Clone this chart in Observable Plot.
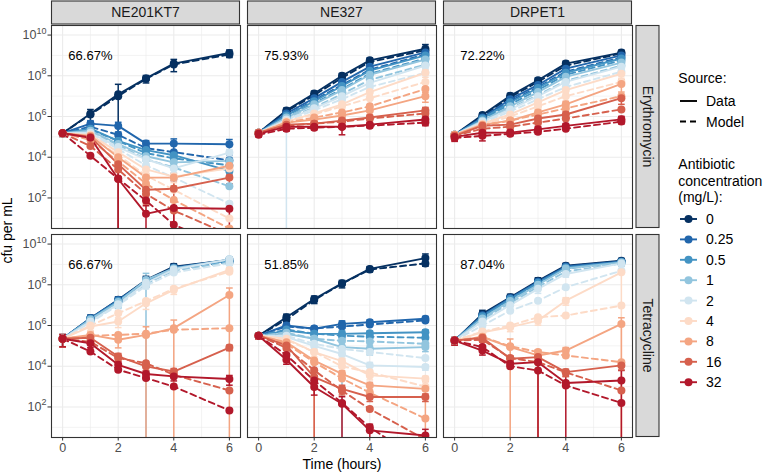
<!DOCTYPE html>
<html><head><meta charset="utf-8">
<script src="https://cdn.jsdelivr.net/npm/d3@7"></script>
<script src="https://cdn.jsdelivr.net/npm/@observablehq/plot@0.6"></script>
<style>
body{margin:0;background:#fff;}
#wrap{position:relative;width:763px;height:474px;font-family:"Liberation Sans",Arial,Helvetica,sans-serif;}
#wrap svg{position:absolute;left:0;top:0;}
</style></head><body><div id="wrap"></div>
<script>
// ---------- categories / ticks ----------
const times = [0, 1, 2, 3, 4, 6];
const strains = ["NE201KT7", "NE327", "DRPET1"];
const drugs = ["Erythromycin", "Tetracycline"];
const concs = ["0", "0.25", "0.5", "1", "2", "4", "8", "16", "32"];
const concColors = ["#053061", "#2166AC", "#4393C3", "#92C5DE", "#D1E5F0", "#FDDBC7", "#F4A582", "#D6604D", "#B2182B"];
const sources = ["Data", "Model"];
const xTicks = [0, 2, 4, 6];
const xMinor = [1, 3, 5];
const yMajor = [1e2, 1e4, 1e6, 1e8, 1e10];
const yMinor = [1e1, 1e3, 1e5, 1e7, 1e9];
const fitPercentErythromycin = ["66.67%", "75.93%", "72.22%"];
const fitPercentTetracycline = ["66.67%", "51.85%", "87.04%"];
const labelTime = 1, labelCfu = 1e9;

// ---------- values: log10(cfu per mL), rows = concentrations, cols = times ----------
// Erythromycin / NE201KT7
const eryNE201KT7Data = [
 [5.18,6.14,7.09,7.87,8.60,9.12],[5.18,5.65,5.54,4.67,4.67,4.64],[5.18,5.40,4.80,4.35,4.10,3.33],
 [5.18,5.30,4.65,4.05,3.75,3.82],[5.18,5.20,4.50,3.90,3.45,4.23],[5.18,5.10,4.25,3.40,3.05,3.45],
 [5.18,5.05,4.00,3.00,3.00,3.58],[5.18,5.00,3.66,2.40,2.45,3.00],[5.18,4.96,2.93,1.22,1.51,1.47]];
const eryNE201KT7Model = [
 [5.18,6.10,7.00,7.85,8.55,9.05],[5.18,5.50,5.10,4.45,4.25,3.85],[5.18,5.35,4.80,4.20,3.95,3.60],
 [5.18,5.25,4.60,3.90,3.50,2.57],[5.18,5.15,4.40,3.60,3.00,1.72],[5.18,5.00,4.10,3.10,2.40,0.99],
 [5.18,4.85,3.80,2.70,1.90,0.50],[5.18,4.55,3.40,2.20,1.38,0.20],[5.18,4.07,2.95,1.87,0.69,-0.50]];
const eryNE201KT7Cv = [
 [0.3,0.6,2.1,0.4,0.6,0.4],[0.3,0.4,0.5,0.4,0.7,0.7],[0.3,0.4,0.5,0.4,0.4,0.4],
 [0.3,0.3,0.5,0.4,0.4,0.4],[0.3,0.3,0.4,0.4,0.4,0.4],[0.3,0.3,0.4,0.5,0.5,0.4],
 [0.3,0.3,0.5,0.6,0.6,0.5],[0.3,0.3,1.2,0.8,1.5,0.5],[0.3,0.4,1.5,1.5,1.0,1.0]];
// Erythromycin / NE327
const eryNE327Data = [
 [5.20,6.30,7.13,8.00,8.76,9.33],[5.20,6.15,6.90,7.70,8.45,9.15],[5.20,6.05,6.75,7.50,8.25,9.00],
 [5.20,5.95,6.60,7.30,8.05,8.80],[5.20,5.85,6.40,7.00,7.65,8.50],[5.20,5.75,6.15,6.60,7.20,8.15],
 [5.20,5.70,5.85,6.05,6.30,7.00],[5.20,5.60,5.65,5.80,5.95,6.30],[5.15,5.50,5.50,5.50,5.60,5.85]];
const eryNE327Model = [
 [5.20,6.25,7.05,7.90,8.68,9.25],[5.20,6.05,6.80,7.55,8.30,9.05],[5.20,5.95,6.65,7.35,8.10,8.85],
 [5.20,5.90,6.45,7.10,7.80,8.55],[5.20,5.80,6.30,6.85,7.45,8.15],[5.20,5.75,6.10,6.50,6.90,7.70],
 [5.20,5.70,5.95,6.20,6.50,7.35],[5.20,5.55,5.65,5.75,5.90,6.15],[5.10,5.40,5.45,5.50,5.55,5.70]];
const eryNE327Cv = [
 [0.3,0.3,0.3,0.3,0.3,0.6],[0.3,0.3,0.3,0.3,0.3,0.3],[0.3,0.3,0.3,0.3,0.3,0.3],
 [0.3,0.3,0.3,0.4,0.3,0.3],[0.3,1.5,0.3,0.4,0.3,0.3],[0.3,0.3,0.3,0.4,0.3,0.4],
 [0.3,0.3,0.3,0.4,0.4,0.5],[0.3,0.3,0.3,0.4,0.3,0.4],[0.3,0.4,0.3,0.6,0.3,0.5]];
// Erythromycin / DRPET1
const eryDRPET1Data = [
 [5.10,6.07,7.02,7.78,8.60,9.14],[5.10,5.95,6.85,7.55,8.35,9.00],[5.10,5.90,6.70,7.40,8.15,8.85],
 [5.10,5.80,6.50,7.20,7.95,8.65],[5.10,5.75,6.35,7.00,7.70,8.45],[5.10,5.65,6.10,6.70,7.30,8.10],
 [5.10,5.60,5.80,6.20,6.60,7.60],[5.05,5.55,5.60,5.90,6.10,6.90],[5.00,5.20,5.21,5.37,5.54,5.86]];
const eryDRPET1Model = [
 [5.10,6.00,6.95,7.70,8.50,9.10],[5.10,5.90,6.75,7.45,8.20,8.90],[5.10,5.85,6.60,7.30,8.05,8.75],
 [5.10,5.75,6.40,7.05,7.75,8.50],[5.10,5.70,6.25,6.85,7.45,8.20],[5.10,5.60,6.00,6.50,7.00,7.70],
 [5.10,5.55,5.80,6.10,6.40,7.00],[5.05,5.40,5.50,5.70,5.90,6.35],[4.95,5.05,5.15,5.25,5.40,5.75]];
const eryDRPET1Cv = [
 [0.3,0.3,0.3,0.3,0.3,0.3],[0.3,0.3,0.3,0.3,0.3,0.3],[0.3,0.3,0.3,0.3,0.3,0.3],
 [0.3,0.3,0.3,0.3,0.3,0.3],[0.3,0.3,0.3,0.3,0.3,0.3],[0.3,0.3,0.3,0.3,0.3,0.4],
 [0.3,0.3,0.3,0.4,0.4,0.6],[0.4,0.6,0.4,0.7,0.4,0.5],[0.4,0.6,0.3,0.4,0.3,0.4]];
// Tetracycline / NE201KT7
const tetNE201KT7Data = [
 [5.35,6.36,7.26,8.24,8.89,9.22],[5.35,6.36,7.25,8.20,8.85,9.22],[5.35,6.33,7.20,8.18,8.82,9.20],
 [5.35,6.30,7.15,8.24,8.80,9.25],[5.35,6.20,7.05,8.10,8.75,9.25],[5.35,5.95,6.20,7.09,7.75,8.73],
 [5.35,5.54,5.30,5.54,5.87,7.50],[5.35,5.40,4.48,3.99,3.74,4.92],[5.35,5.13,4.07,3.62,3.50,3.37]];
const tetNE201KT7Model = [
 [5.35,6.30,7.20,8.15,8.80,9.15],[5.35,6.28,7.18,8.12,8.78,9.15],[5.35,6.25,7.15,8.10,8.75,9.12],
 [5.35,6.22,7.10,8.05,8.70,9.10],[5.35,6.15,7.00,7.95,8.60,9.05],[5.35,6.00,6.60,7.20,7.80,8.64],
 [5.35,5.50,5.54,5.60,5.79,5.87],[5.35,5.20,4.40,4.15,3.58,2.81],[5.35,4.72,3.83,3.42,3.00,1.83]];
const tetNE201KT7Cv = [
 [0.6,0.4,0.4,0.5,0.4,0.3],[0.6,0.4,0.4,0.5,0.4,0.3],[0.6,0.4,0.5,0.5,0.4,0.3],
 [0.6,0.4,0.5,1.1,0.4,0.3],[0.6,0.4,0.5,0.5,0.4,0.3],[0.6,0.4,0.5,0.5,0.4,0.3],
 [0.6,0.5,0.6,1.5,1.5,1.2],[0.6,0.5,0.4,0.4,0.4,0.3],[0.6,0.4,0.4,0.4,0.4,0.5]];
// Tetracycline / NE327
const tetNE327Data = [
 [5.50,6.41,7.30,8.07,8.78,9.31],[5.50,6.00,5.84,6.08,6.16,6.33],[5.50,5.75,5.59,5.59,5.62,5.67],
 [5.50,5.59,5.35,4.94,4.86,4.94],[5.50,5.43,5.00,4.60,4.04,3.96],[5.50,5.35,4.69,4.25,3.55,3.39],
 [5.50,5.18,4.28,3.63,3.06,2.89],[5.50,5.02,3.47,2.89,2.49,2.49],[5.50,4.32,2.98,2.16,0.85,0.60]];
const tetNE327Model = [
 [5.50,6.30,7.25,8.05,8.75,9.05],[5.50,5.95,5.85,5.95,6.05,6.25],[5.50,5.80,5.60,5.50,5.45,5.40],
 [5.50,5.65,5.35,5.25,5.22,5.10],[5.50,5.50,5.10,4.85,4.70,4.40],[5.50,5.30,4.70,4.00,3.70,3.00],
 [5.50,5.10,4.20,3.40,2.70,1.43],[5.50,4.90,3.80,2.80,1.90,0.40],[5.50,4.55,3.30,2.20,1.00,-0.80]];
const tetNE327Cv = [
 [0.3,0.4,0.4,0.4,0.3,0.6],[0.3,0.3,0.3,0.4,0.3,0.3],[0.3,0.3,0.3,0.4,0.3,0.3],
 [0.3,0.3,0.4,3.0,0.5,0.4],[0.3,0.3,0.4,0.4,0.4,0.3],[0.3,0.3,0.4,0.4,0.4,0.3],
 [0.3,0.4,1.5,0.4,0.4,1.3],[0.3,0.4,1.3,0.5,0.4,0.4],[0.3,0.4,0.6,1.2,1.0,1.0]];
// Tetracycline / DRPET1
const tetDRPET1Data = [
 [5.26,6.57,7.39,8.20,8.94,9.18],[5.26,6.50,7.35,8.15,8.90,9.15],[5.26,6.45,7.30,8.10,8.85,9.12],
 [5.26,6.35,7.20,8.00,8.80,9.10],[5.26,6.20,7.00,7.80,8.53,9.05],[5.26,5.67,5.92,6.24,7.22,8.61],
 [5.26,5.43,4.94,4.53,4.77,6.08],[5.26,5.40,4.37,4.45,3.71,4.04],[5.26,4.77,4.12,4.20,3.18,3.30]];
const tetDRPET1Model = [
 [5.26,6.50,7.35,8.15,8.90,9.15],[5.26,6.45,7.30,8.10,8.85,9.12],[5.26,6.40,7.25,8.05,8.80,9.10],
 [5.26,6.30,7.10,7.90,8.65,9.05],[5.26,6.00,6.73,7.22,7.88,8.69],[5.26,5.70,6.00,6.41,6.49,6.98],
 [5.26,5.45,4.98,4.70,4.53,4.20],[5.26,5.30,4.40,4.20,3.70,2.81],[5.26,4.94,4.00,3.79,3.06,2.20]];
const tetDRPET1Cv = [
 [0.4,0.5,0.4,0.4,0.3,0.3],[0.4,0.5,0.4,0.4,0.3,0.3],[0.4,0.4,0.4,0.4,0.3,0.3],
 [0.4,0.4,0.4,0.4,0.3,0.3],[0.4,0.4,0.4,0.4,0.3,0.3],[0.4,0.4,0.4,0.4,0.4,1.0],
 [0.4,0.4,1.5,0.4,0.4,1.0],[0.4,0.4,0.4,1.2,0.4,0.4],[0.4,0.4,0.4,1.2,1.2,2.1]];

const panels = [
  ["NE201KT7", "Erythromycin", eryNE201KT7Data, eryNE201KT7Model, eryNE201KT7Cv],
  ["NE327", "Erythromycin", eryNE327Data, eryNE327Model, eryNE327Cv],
  ["DRPET1", "Erythromycin", eryDRPET1Data, eryDRPET1Model, eryDRPET1Cv],
  ["NE201KT7", "Tetracycline", tetNE201KT7Data, tetNE201KT7Model, tetNE201KT7Cv],
  ["NE327", "Tetracycline", tetNE327Data, tetNE327Model, tetNE327Cv],
  ["DRPET1", "Tetracycline", tetDRPET1Data, tetDRPET1Model, tetDRPET1Cv]
];

// ---------- tidy tables ----------
const rows = [], errs = [];
for (const [strain, drug, dat, mod, cv] of panels) {
  concs.forEach((conc, ci) => {
    times.forEach((time, ti) => {
      const m = 10 ** dat[ci][ti];
      rows.push({strain, drug, conc, source: "Data", time, cfu: m});
      rows.push({strain, drug, conc, source: "Model", time, cfu: 10 ** mod[ci][ti]});
      const c = cv[ci][ti];
      errs.push({strain, drug, conc, time, hi: m * (1 + c), lo: c >= 1 ? 1e-3 : m * (1 - c), loCap: c < 1});
    });
  });
}
const pctRows = [];
drugs.forEach((drug, i) => strains.forEach((strain, j) => pctRows.push({
  strain, drug, time: labelTime, cfu: labelCfu,
  label: (i === 0 ? fitPercentErythromycin : fitPercentTetracycline)[j]})));

const FONT = '"Liberation Sans", Arial, Helvetica, sans-serif';
const capHalf = 0.12;
const lw = 1.9;
const fxy = {fx: "strain", fy: "drug", clip: true};

const marks = [
  Plot.ruleX(xMinor, {stroke: "#EBEBEB", strokeWidth: 0.6}),
  Plot.ruleX(xTicks, {stroke: "#EBEBEB", strokeWidth: 1.1}),
  Plot.ruleY(yMinor, {stroke: "#EBEBEB", strokeWidth: 0.6}),
  Plot.ruleY(yMajor, {stroke: "#EBEBEB", strokeWidth: 1.1}),
];
// error bars (Data only)
marks.push(Plot.link(errs, {x1: "time", x2: "time", y1: "lo", y2: "hi", stroke: "conc", strokeWidth: 1.5, ...fxy}));
marks.push(Plot.link(errs, {x1: d => d.time - capHalf, x2: d => d.time + capHalf, y1: "hi", y2: "hi", stroke: "conc", strokeWidth: 1.5, ...fxy}));
marks.push(Plot.link(errs.filter(d => d.loCap), {x1: d => d.time - capHalf, x2: d => d.time + capHalf, y1: "lo", y2: "lo", stroke: "conc", strokeWidth: 1.5, ...fxy}));
// lines, per concentration so higher concentrations are drawn on top
for (const conc of concs) {
  marks.push(Plot.line(rows.filter(d => d.conc === conc && d.source === "Model"),
    {x: "time", y: "cfu", z: d => d.strain + d.drug, stroke: "conc", strokeWidth: lw, strokeDasharray: "6,4", ...fxy}));
  marks.push(Plot.line(rows.filter(d => d.conc === conc && d.source === "Data"),
    {x: "time", y: "cfu", z: d => d.strain + d.drug, stroke: "conc", strokeWidth: lw, ...fxy}));
}
marks.push(Plot.dot(rows, {x: "time", y: "cfu", fill: "conc", r: 4, ...fxy}));
marks.push(Plot.text(pctRows, {x: "time", y: "cfu", text: "label", fx: "strain", fy: "drug", fill: "black", fontSize: 13}));
marks.push(Plot.frame({stroke: "#333333", strokeWidth: 1.1}));

const chart = Plot.plot({
  width: 763, height: 474,
  marginLeft: 50, marginRight: 129, marginTop: 24, marginBottom: 37,
  style: {fontFamily: FONT, fontSize: "12.5px", color: "#4D4D4D", background: "white"},
  fx: {domain: strains, axis: null, paddingInner: 0.0355, paddingOuter: 0, label: null},
  fy: {domain: drugs, axis: null, paddingInner: 0.031, paddingOuter: 0, label: null},
  x: {domain: [-0.4, 6.4], ticks: xTicks, tickSize: 3.5, tickPadding: 2.5, label: null, tickFormat: d => String(d)},
  y: {type: "log", domain: [10 ** 0.5, 10 ** 10.47], ticks: yMajor, tickSize: 3.5, tickPadding: 1.5, label: null,
      tickFormat: d => "10^" + Math.round(Math.log10(d))},
  color: {type: "ordinal", domain: concs, range: concColors},
  marks
});
const wrap = document.getElementById("wrap");
wrap.appendChild(chart);

// tick label size and superscript exponents on y tick labels
const NS = "http://www.w3.org/2000/svg";
chart.querySelectorAll('g[aria-label$="tick label"]').forEach(g => {
  g.setAttribute("font-size", "12.5"); g.style.fontSize = "12.5px";
});
chart.querySelectorAll("text").forEach(t => {
  const s = t.textContent;
  if (/^10\^\d+$/.test(s)) {
    const e = s.split("^")[1];
    t.textContent = "10";
    t.style.fontSize = "12.5px";
    const sp = document.createElementNS(NS, "tspan");
    sp.setAttribute("dy", "-5.5");
    sp.style.fontSize = "9px";
    sp.textContent = e;
    t.appendChild(sp);
  } else if (/^[0246]$/.test(s)) {
    t.style.fontSize = "12.5px";
  }
});
chart.querySelectorAll('g[aria-label$="axis tick"] path, g[aria-label$="axis tick"]').forEach(g => g.setAttribute("stroke", "#333333"));

// ---------- strips, axis titles, legend (overlay) ----------
const fxS = chart.scale("fx"), fyS = chart.scale("fy");
const fxPos = s => (fxS && fxS.apply) ? fxS.apply(s) : 50 + strains.indexOf(s) * 197;
const fyPos = s => (fyS && fyS.apply) ? fyS.apply(s) : 24 + drugs.indexOf(s) * 209.7;
const bwX = (fxS && fxS.bandwidth) || 190, bwY = (fyS && fyS.bandwidth) || 203.3;

const ov = d3.create("svg").attr("width", 763).attr("height", 474)
  .style("font-family", FONT).style("pointer-events", "none");
strains.forEach(s => {
  const x0 = fxPos(s);
  ov.append("rect").attr("x", x0 + 0.5).attr("y", 1).attr("width", bwX - 1).attr("height", 23)
    .attr("fill", "#D9D9D9").attr("stroke", "#333333").attr("stroke-width", 1.1);
  ov.append("text").attr("x", x0 + bwX / 2).attr("y", 12.5).attr("dy", "0.35em")
    .attr("text-anchor", "middle").attr("font-size", 14).attr("fill", "#1A1A1A").text(s);
});
drugs.forEach(d => {
  const y0 = fyPos(d);
  ov.append("rect").attr("x", 636).attr("y", y0 + 0.5).attr("width", 23).attr("height", bwY - 1)
    .attr("fill", "#D9D9D9").attr("stroke", "#333333").attr("stroke-width", 1.1);
  ov.append("text").attr("transform", `translate(647.5,${y0 + bwY / 2}) rotate(90)`).attr("dy", "0.35em")
    .attr("text-anchor", "middle").attr("font-size", 14).attr("fill", "#1A1A1A").text(d);
});
ov.append("text").attr("transform", "translate(7.5,230.5) rotate(-90)").attr("dy", "0.35em")
  .attr("text-anchor", "middle").attr("font-size", 14).attr("fill", "black").text("cfu per mL");
ov.append("text").attr("x", 342).attr("y", 469).attr("text-anchor", "middle")
  .attr("font-size", 14).attr("fill", "black").text("Time (hours)");

// legend: Source
const lx = 678.3;
ov.append("text").attr("x", lx).attr("y", 82.7).attr("font-size", 14).attr("fill", "black").text("Source:");
const srcY = [101, 121.5];
sources.forEach((s, i) => {
  ov.append("line").attr("x1", 680).attr("x2", 697).attr("y1", srcY[i]).attr("y2", srcY[i])
    .attr("stroke", "black").attr("stroke-width", lw).attr("stroke-dasharray", s === "Model" ? "6,4" : null);
  ov.append("text").attr("x", 706).attr("y", srcY[i]).attr("dy", "0.36em").attr("font-size", 14).attr("fill", "black").text(s);
});
// legend: concentration
["Antibiotic", "concentration", "(mg/L):"].forEach((t, i) =>
  ov.append("text").attr("x", lx).attr("y", 169 + i * 16.5).attr("font-size", 14).attr("fill", "black").text(t));
concs.forEach((c, i) => {
  const y = 219 + i * 20.4;
  ov.append("line").attr("x1", 680).attr("x2", 697).attr("y1", y).attr("y2", y)
    .attr("stroke", concColors[i]).attr("stroke-width", lw);
  ov.append("circle").attr("cx", 688.5).attr("cy", y).attr("r", 4).attr("fill", concColors[i]);
  ov.append("text").attr("x", 706).attr("y", y).attr("dy", "0.36em").attr("font-size", 14).attr("fill", "black").text(c);
});
wrap.appendChild(ov.node());
</script></body></html>
